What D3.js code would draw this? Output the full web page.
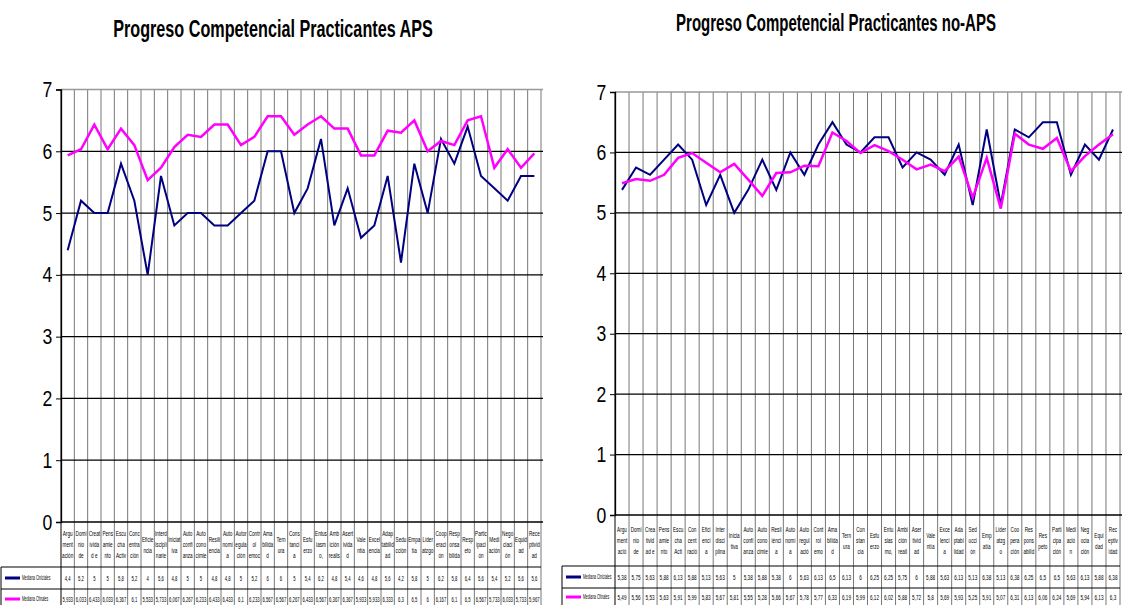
<!DOCTYPE html>
<meta charset="utf-8">
<style>
  body { margin: 0; background: #fff; }
  svg text { font-family: "Liberation Sans", Arial, sans-serif; }
</style>
<body>
<script src="https://d3js.org/d3.v7.min.js"></script>
<script>

// ---- data: APS chart (left) ----
var apsLabels = [
  ["Argu","ment","ación"],["Domi","nio","de"],["Creat","ivida","d e"],["Pens","amie","nto"],
  ["Escu","cha","Activ"],["Conc","entra","ción"],["Eficie","ncia"],["Interd","iscipli","narie"],
  ["Iniciat","iva"],["Auto","confi","anza"],["Auto","cono","cimie"],["Resili","encia"],
  ["Auto","nomí","a"],["Autor","egula","ción"],["Contr","ol","emoc"],["Ama","bilida","d"],
  ["Tern","ura"],["Cons","tanci","a"],["Esfu","erzo"],["Entus","iasm","o,"],
  ["Amb","ición","realis"],["Asert","ivida","d"],["Vale","ntía"],["Excel","encia"],
  ["Adap","tabilid","ad"],["Sedu","cción"],["Empa","tía"],["Líder","atzgo"],
  ["Coop","eraci","ón"],["Resp","onsa","bilida"],["Resp","eto"],["Partic","ipaci","ón"],
  ["Medi","ación"],["Nego","ciaci","ón"],["Equid","ad"],["Rece","ptivid","ad"]
];
var apsInicial = [4.4,5.2,5,5,5.8,5.2,4,5.6,4.8,5,5,4.8,4.8,5,5.2,6,6,5,5.4,6.2,4.8,5.4,4.6,4.8,5.6,4.2,5.8,5,6.2,5.8,6.4,5.6,5.4,5.2,5.6,5.6];
var apsFinal = [5.933,6.033,6.433,6.033,6.367,6.1,5.533,5.733,6.067,6.267,6.233,6.433,6.433,6.1,6.233,6.567,6.567,6.267,6.433,6.567,6.367,6.367,5.933,5.933,6.333,6.3,6.5,6,6.167,6.1,6.5,6.567,5.733,6.033,5.733,5.967];

// ---- data: no-APS chart (right) ----
var noApsLabels = [
  ["Argu","ment","ació"],["Domi","nio","de"],["Crea","tivid","ad e"],["Pens","amie","nto"],
  ["Escu","cha","Acti"],["Con","cent","ració"],["Efici","enci","a"],["Inter","disci","plina"],
  ["Inicia","tiva"],["Auto","confi","anza"],["Auto","cono","cimie"],["Resil","iénci","a"],
  ["Auto","nomí","a"],["Auto","regul","ació"],["Cont","rol","emo"],["Ama","bilida","d"],
  ["Tern","ura"],["Con","stan","cia"],["Esfu","erzo"],["Entu","sias","mo,"],
  ["Ambi","ción","reali"],["Aser","tivid","ad"],["Vale","ntía"],["Exce","lenci","a"],
  ["Ada","ptabi","lidad"],["Sed","ucci","ón"],["Emp","atía"],["Líder","atzg","o"],
  ["Coo","pera","ción"],["Res","pons","abilid"],["Res","peto"],["Parti","cipa","ción"],
  ["Medi","ació","n"],["Neg","ocia","ción"],["Equi","dad"],["Rec","eptiv","idad"]
];
var noApsInicial = [5.38,5.75,5.63,5.88,6.13,5.88,5.13,5.63,5,5.38,5.88,5.38,6,5.63,6.13,6.5,6.13,6,6.25,6.25,5.75,6,5.88,5.63,6.13,5.13,6.38,5.13,6.38,6.25,6.5,6.5,5.63,6.13,5.88,6.38];
var noApsFinal = [5.49,5.56,5.53,5.63,5.91,5.99,5.83,5.67,5.81,5.55,5.28,5.66,5.67,5.78,5.77,6.33,6.19,5.99,6.12,6.02,5.88,5.72,5.8,5.69,5.93,5.25,5.91,5.07,6.31,6.13,6.06,6.24,5.69,5.94,6.13,6.3];

var yTicks = [0,1,2,3,4,5,6,7];
var seriesNames = ["Mediana Ciniciales", "Mediana Cfinales"];
var seriesColors = ["#000080", "#ff00ff"];

var svg = d3.select("body").append("svg")
  .attr("width", 1122).attr("height", 605);

function fmt(v) { return String(v).replace(".", ","); }

// condensed text: the narrow font is not installed, so squeeze horizontally
function narrow(g, x, y, str, size, sx, anchor) {
  return g.append("text")
    .attr("transform", "translate(" + x + "," + y + ") scale(" + sx + ",1)")
    .attr("dy", "0.35em")
    .attr("text-anchor", anchor || "middle")
    .style("font-size", size + "px")
    .text(str);
}

function drawPanel(p) {
  var g = svg.append("g");
  var n = p.labels.length;
  var x = d3.scaleBand().domain(d3.range(n)).range([p.x0, p.x1]);
  var y = d3.scaleLinear().domain([0, 7]).range([p.y0, p.y7]);

  // title, squeezed to the width it has in the original
  var t = g.append("text")
    .attr("text-anchor", "middle")
    .style("font-size", "23px").style("font-weight", "bold")
    .text(p.title);
  var sx = 320 / t.node().getComputedTextLength();
  t.attr("transform", "translate(" + p.titleX + "," + p.titleY + ") scale(" + sx + ",1)");

  // vertical grid lines (also table column borders)
  g.selectAll(".vl").data(d3.range(n + 1)).enter().append("line")
    .attr("x1", function (i) { return p.x0 + i * x.bandwidth(); })
    .attr("x2", function (i) { return p.x0 + i * x.bandwidth(); })
    .attr("y1", y(7)).attr("y2", p.tableBottom)
    .attr("stroke", function (i) { return i === 0 ? "#000" : "#777"; })
    .attr("stroke-width", 1);

  // horizontal grid lines
  g.selectAll(".hl").data(yTicks.slice(1)).enter().append("line")
    .attr("x1", p.x0).attr("x2", p.x1 + 2)
    .attr("y1", function (d) { return y(d); }).attr("y2", function (d) { return y(d); })
    .attr("stroke", function (d) { return d === 7 ? "#999" : "#000"; })
    .attr("stroke-width", 1.3);

  // y axis
  var ax = g.append("g")
    .attr("transform", "translate(" + p.x0 + ",0)")
    .call(d3.axisLeft(y).tickValues(yTicks).tickSize(5).tickPadding(4).tickFormat(d3.format("d")));
  ax.select(".domain").attr("stroke", "#000").attr("stroke-width", 1.3);
  ax.selectAll(".tick line").attr("stroke", "#000");
  ax.selectAll("text")
    .attr("x", -11).attr("transform", "scale(0.8,1)")
    .style("font-size", "22px").attr("fill", "#000");

  // table lines
  g.append("line").attr("x1", p.x0).attr("x2", p.x1 + 2)
    .attr("y1", y(0)).attr("y2", y(0)).attr("stroke", "#000").attr("stroke-width", 1.5);
  [p.rowTop, p.rowMid, p.tableBottom].forEach(function (ry) {
    g.append("line").attr("x1", p.legendX).attr("x2", p.x1)
      .attr("y1", ry).attr("y2", ry).attr("stroke", "#000").attr("stroke-width", 1);
  });
  g.append("line").attr("x1", p.legendX).attr("x2", p.legendX)
    .attr("y1", p.rowTop).attr("y2", p.tableBottom).attr("stroke", "#000");

  // header labels
  var hdrMid = (y(0) + p.rowTop) / 2;
  p.labels.forEach(function (lines, i) {
    var cx = x(i) + x.bandwidth() / 2;
    var lh = 11;
    var start = hdrMid - (lines.length - 1) * lh / 2;
    lines.forEach(function (s, k) {
      narrow(g, cx, start + k * lh, s, 7.5, 0.62);
    });
  });

  // value rows + legend
  [p.inicial, p.final].forEach(function (vals, s) {
    var ry = s === 0 ? (p.rowTop + p.rowMid) / 2 : (p.rowMid + p.tableBottom) / 2 + p.row2Shift;
    vals.forEach(function (d, i) {
      narrow(g, x(i) + x.bandwidth() / 2, ry, fmt(d), 7.5, p.valScale);
    });
    g.append("line")
      .attr("x1", p.legendX + 4).attr("x2", p.legendX + 19)
      .attr("y1", ry).attr("y2", ry)
      .attr("stroke", seriesColors[s]).attr("stroke-width", 3);
    narrow(g, p.legendX + 21, ry, seriesNames[s], 6.5, 0.52, "start");
  });

  // lines
  var line = d3.line()
    .x(function (d, i) { return x(i) + x.bandwidth() / 2; })
    .y(function (d) { return y(d); });
  [p.inicial, p.final].forEach(function (vals, s) {
    g.append("path").datum(vals)
      .attr("d", line)
      .attr("fill", "none")
      .attr("stroke", seriesColors[s])
      .attr("stroke-width", s === 0 ? 2 : 2.5)
      .attr("stroke-linejoin", "miter");
  });
}

drawPanel({
  title: "Progreso Competencial Practicantes APS", titleX: 273, titleY: 37,
  labels: apsLabels, inicial: apsInicial, final: apsFinal,
  x0: 61, x1: 541, y0: 522, y7: 89.5,
  legendX: 1, rowTop: 567, rowMid: 589, tableBottom: 606, row2Shift: 1.5, valScale: 0.56
});

drawPanel({
  title: "Progreso Competencial Practicantes no-APS", titleX: 836, titleY: 31,
  labels: noApsLabels, inicial: noApsInicial, final: noApsFinal,
  x0: 615, x1: 1120, y0: 515, y7: 92,
  legendX: 562, rowTop: 566, rowMid: 588, tableBottom: 606, row2Shift: 0, valScale: 0.62
});

</script>
</body>
